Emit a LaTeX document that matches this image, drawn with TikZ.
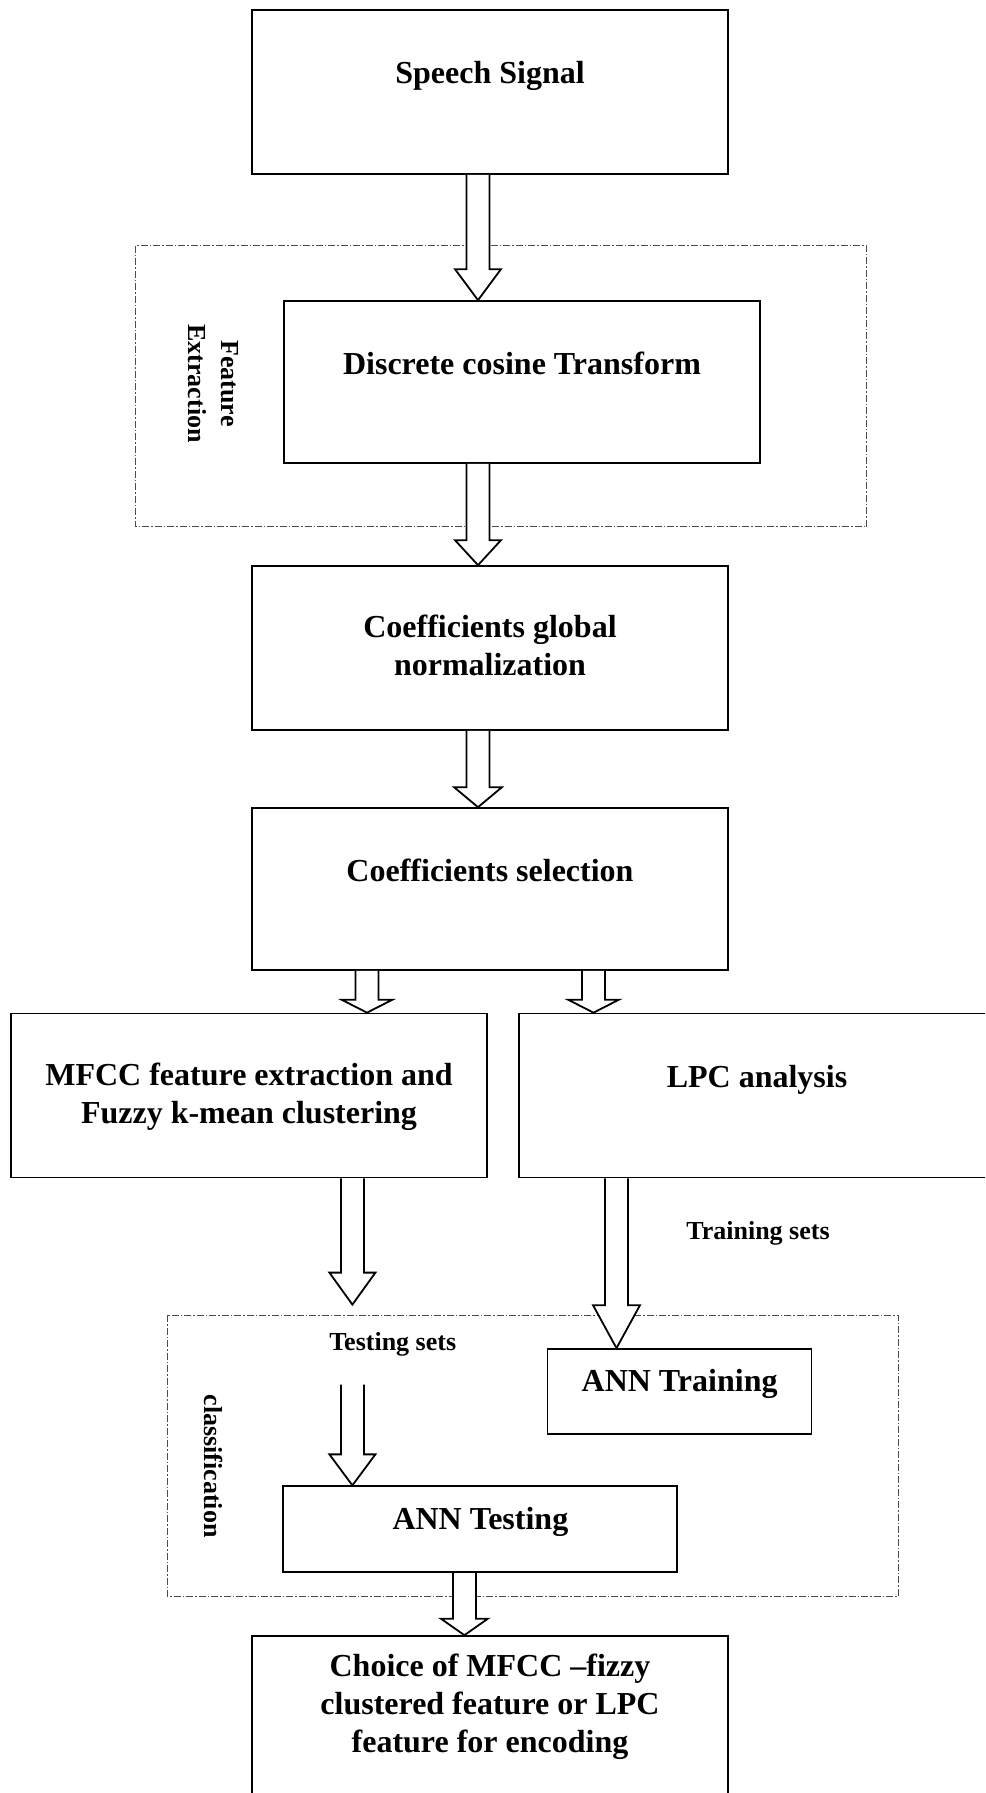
\documentclass[tikz,border=0pt]{standalone}
\usepackage{fontspec}
\setmainfont{Liberation Serif}
\usetikzlibrary{calc}
\tikzset{
  box/.style={draw, line width=1.7pt, inner sep=0pt, fill=white},
  grp/.style={draw=black!70, line width=0.8pt, dash pattern=on 7pt off 2pt on 1.5pt off 2pt},
  blockarrow/.style={draw, fill=white, line width=1.8pt, line join=miter},
  lbl/.style={font=\fontsize{32}{38}\selectfont\bfseries, align=center, anchor=base, inner sep=0pt},
  slbl/.style={font=\fontsize{26}{32}\selectfont\bfseries, align=center, anchor=base, inner sep=0pt},
  rlbl/.style={font=\fontsize{26}{33}\selectfont\bfseries, align=center, anchor=center, inner sep=0pt, rotate=-90},
}
% #1 x, #2 start point, #3 tip point, #4 head length, #5 head half width
\newcommand{\barrow}[5]{%
  \draw[blockarrow] let \p1=(#2), \p2=(#3) in
    (#1pt-11.5pt,\y1) -- (#1pt-11.5pt,\y2+#4pt) -- (#1pt-#5pt,\y2+#4pt) -- (#1pt,\y2)
    -- (#1pt+#5pt,\y2+#4pt) -- (#1pt+11.5pt,\y2+#4pt) -- (#1pt+11.5pt,\y1);
}
\begin{document}
\begin{tikzpicture}[x=1pt,y=1pt]
\useasboundingbox (0,0) rectangle (985,-1793);
\clip (0,0) rectangle (985,-1793);

% group frames
\draw[grp] (135.7,-245.7) rectangle (866.8,-526.8);
\draw[grp] (167,-1315) rectangle (898,-1596);

% boxes (geometry)
\node[box, minimum width=476, minimum height=164] (speech) at (490,-92) {};
\node[box, minimum width=476, minimum height=162] (dct) at (522,-382) {};
\node[box, minimum width=476, minimum height=164] (cgn) at (490,-648) {};
\node[box, minimum width=476, minimum height=162] (cs) at (490,-889) {};
\node[box, minimum width=476, minimum height=164] (mfcc) at (249,-1095.5) {};
\node[box, minimum width=476, minimum height=164] (lpc) at (757,-1095.5) {};
\node[box, minimum width=264, minimum height=85] (anntr) at (679.6,-1391.5) {};
\node[box, minimum width=394, minimum height=86] (annte) at (480.2,-1529.2) {};
\node[box, minimum width=476, minimum height=164] (choice) at (490,-1718) {};

\coordinate (a5tip) at (352.4,-1304.6);
\coordinate (a6start) at (352.4,-1384.6);

% block arrows
\barrow{478}{speech.south}{dct.north}{31}{23}
\barrow{478}{dct.south}{cgn.north}{25}{23}
\barrow{478}{cgn.south}{cs.north}{20}{24}
\barrow{367}{cs.south}{mfcc.north}{13}{25.5}
\barrow{593.5}{cs.south}{lpc.north}{13}{25.5}
\barrow{352.4}{mfcc.south}{a5tip}{32}{23}
\barrow{616.5}{lpc.south}{anntr.north}{43}{23.5}
\barrow{352.4}{a6start}{annte.north}{31}{23}
\barrow{464.4}{annte.south}{choice.north}{16.5}{23.5}

% texts (anchor=base is the baseline of the last line)
\node[lbl] (tspeech) at (490,-83) {Speech Signal};
\node[lbl] (tdct) at (522,-374) {Discrete cosine Transform};
\node[lbl] (tcgn) at (490,-675) {Coefficients global\\normalization};
\node[lbl] (tcs) at (490,-881) {Coefficients selection};
\node[lbl] (tmfcc) at (249,-1123) {MFCC feature extraction and\\Fuzzy k-mean clustering};
\node[lbl] (tlpc) at (757,-1087) {LPC analysis};
\node[slbl] (ttrs) at (758,-1239) {Training sets};
\node[slbl] (ttes) at (392.7,-1350) {Testing sets};
\node[lbl] (tanntr) at (679.6,-1391) {ANN Training};
\node[lbl] (tannte) at (480.4,-1529) {ANN Testing};
\node[lbl] (tchoice) at (490,-1752) {Choice of MFCC –fizzy\\clustered feature or LPC\\feature for encoding};

\node[rlbl] (tfe) at (213.5,-383.5) {Feature\\Extraction};
\node[rlbl] (tcl) at (214,-1466) {classification};
\end{tikzpicture}
\end{document}
